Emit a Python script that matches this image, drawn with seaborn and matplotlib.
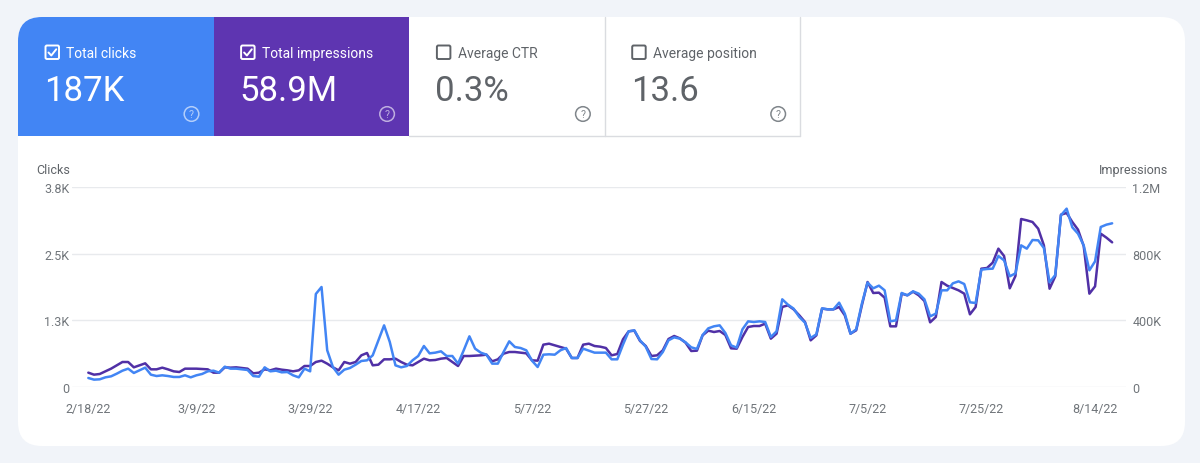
import numpy as np
import pandas as pd
import matplotlib
matplotlib.use("Agg")
import matplotlib.pyplot as plt
from matplotlib.patches import FancyBboxPatch, Rectangle, Circle
from matplotlib.lines import Line2D
import seaborn as sns

# ---------------- data ----------------
start_date = "2022-02-18"

clicks = [
    169, 138, 144, 181, 200, 250, 306, 344, 263, 313,
    363, 231, 206, 219, 206, 188, 188, 219, 181, 219,
    244, 294, 306, 269, 381, 344, 344, 331, 319, 206,
    194, 369, 294, 306, 275, 281, 219, 181, 344, 294,
    1744, 1875, 688, 375, 231, 325, 356, 419, 488, 500,
    594, 875, 1156, 844, 406, 369, 394, 500, 581, 769,
    631, 644, 669, 581, 581, 438, 688, 950, 719, 644,
    606, 438, 438, 656, 856, 750, 731, 688, 494, 375,
    606, 613, 606, 688, 731, 544, 544, 719, 681, 644,
    644, 644, 519, 519, 794, 1044, 1063, 875, 756, 525,
    519, 656, 875, 931, 906, 838, 744, 713, 975, 1100,
    1138, 1156, 1013, 781, 738, 1081, 1231, 1219, 1231, 1219,
    938, 1044, 1644, 1544, 1469, 1313, 1206, 919, 988, 1475,
    1456, 1456, 1581, 1375, 1000, 1081, 1563, 1956, 1850, 1900,
    1813, 1231, 1250, 1763, 1719, 1794, 1750, 1644, 1325, 1375,
    1813, 1813, 1944, 1981, 1931, 1588, 1575, 2200, 2213, 2219,
    2456, 2375, 2075, 2131, 2656, 2594, 2756, 2750, 2606, 1963,
    2100, 3219, 3344, 2994, 2875, 2656, 2188, 2356, 3000, 3044,
    3069,
]

impressions = [
    86000, 74000, 78000, 94000, 110000, 130000, 150000, 150000, 118000, 130000,
    142000, 106000, 106000, 116000, 106000, 94000, 90000, 110000, 110000, 110000,
    108000, 106000, 86000, 86000, 118000, 116000, 118000, 114000, 110000, 82000,
    86000, 106000, 100000, 110000, 104000, 100000, 94000, 100000, 126000, 126000,
    150000, 158000, 140000, 118000, 100000, 150000, 140000, 150000, 190000, 204000,
    130000, 134000, 166000, 166000, 170000, 150000, 134000, 130000, 150000, 170000,
    160000, 162000, 170000, 174000, 150000, 126000, 186000, 186000, 188000, 190000,
    194000, 154000, 166000, 200000, 210000, 210000, 206000, 202000, 160000, 158000,
    254000, 260000, 250000, 240000, 230000, 174000, 174000, 254000, 260000, 246000,
    242000, 234000, 190000, 198000, 286000, 334000, 338000, 276000, 246000, 186000,
    190000, 220000, 288000, 306000, 292000, 266000, 216000, 218000, 310000, 338000,
    330000, 336000, 312000, 232000, 230000, 300000, 360000, 366000, 366000, 380000,
    290000, 320000, 480000, 490000, 466000, 430000, 390000, 280000, 310000, 470000,
    466000, 466000, 480000, 430000, 320000, 340000, 490000, 630000, 564000, 566000,
    536000, 364000, 364000, 560000, 550000, 572000, 550000, 516000, 388000, 420000,
    630000, 608000, 594000, 580000, 560000, 436000, 480000, 710000, 714000, 746000,
    830000, 786000, 592000, 666000, 1008000, 1000000, 990000, 950000, 850000, 590000,
    664000, 1034000, 1044000, 990000, 944000, 846000, 560000, 604000, 920000, 896000,
    868000,
]

tick_dates = ["2022-02-18", "2022-03-09", "2022-03-29", "2022-04-17", "2022-05-07",
              "2022-05-27", "2022-06-15", "2022-07-05", "2022-07-25", "2022-08-14"]
tick_labels = ["2/18/22", "3/9/22", "3/29/22", "4/17/22", "5/7/22",
               "5/27/22", "6/15/22", "7/5/22", "7/25/22", "8/14/22"]

clicks_ticks = [0, 1250, 2500, 3750]
clicks_tick_labels = ["0", "1.3K", "2.5K", "3.8K"]
impr_ticks = [0, 400000, 800000, 1200000]
impr_tick_labels = ["0", "400K", "800K", "1.2M"]

tile_titles = ["Total clicks", "Total impressions", "Average CTR", "Average position"]
tile_values = ["187K", "58.9M", "0.3%", "13.6"]
tile_selected = [True, True, False, False]

# ---------------- style ----------------
sns.set_theme(style="white")
plt.rcParams['font.family'] = ['Roboto', 'DejaVu Sans']

BLUE = "#4285f4"
PURPLE = "#5e35b1"
PURPLE_LINE = "#5030a6"
GRAY_TXT = "#5f6368"
TICK_TXT = "#70757a"
BORDER = "#dadce0"
PAGE_BG = "#f1f4f9"

W, H = 1200, 464
fig = plt.figure(figsize=(12, 4.64), dpi=100)
fig.patch.set_facecolor(PAGE_BG)

# background / card layer in pixel coordinates
bg = fig.add_axes([0, 0, 1, 1])
bg.set_xlim(0, W)
bg.set_ylim(H, 0)
bg.axis("off")
bg.set_zorder(0)

card = FancyBboxPatch((18, 18), 1167, 429, boxstyle="round,pad=0,rounding_size=24",
                      facecolor="white", edgecolor="none")
bg.add_patch(card)

tile_x = [18, 213.6, 409.4, 604.7]
tile_w = 195.6
tile_top, tile_bot = 18, 136.7
tile_fill = [BLUE, PURPLE, None, None]

# blue tile with rounded top-left corner
bg.add_patch(FancyBboxPatch((tile_x[0], tile_top), tile_w, tile_bot - tile_top,
                            boxstyle="round,pad=0,rounding_size=24",
                            facecolor=BLUE, edgecolor="none"))
bg.add_patch(Rectangle((tile_x[0] + 40, tile_top), tile_w - 40, tile_bot - tile_top,
                       facecolor=BLUE, edgecolor="none"))
bg.add_patch(Rectangle((tile_x[0], tile_top + 40), tile_w, tile_bot - tile_top - 40,
                       facecolor=BLUE, edgecolor="none"))
# purple tile
bg.add_patch(Rectangle((tile_x[1], tile_top), tile_w, tile_bot - tile_top,
                       facecolor=PURPLE, edgecolor="none"))
# white tiles borders
bg.add_line(Line2D([tile_x[2], tile_x[3] + tile_w], [tile_bot, tile_bot], color=BORDER, lw=1))
bg.add_line(Line2D([tile_x[3], tile_x[3]], [tile_top, tile_bot], color=BORDER, lw=1))
bg.add_line(Line2D([tile_x[3] + tile_w, tile_x[3] + tile_w], [tile_top, tile_bot], color=BORDER, lw=1))

for i, (tx, title, val, sel) in enumerate(zip(tile_x, tile_titles, tile_values, tile_selected)):
    filled = tile_fill[i] is not None
    fg = "white" if filled else GRAY_TXT
    # checkbox
    bg.add_patch(FancyBboxPatch((tx + 27.5, 46.5), 13.5, 13.5,
                                boxstyle="round,pad=0,rounding_size=1.5",
                                facecolor="none", edgecolor=fg, lw=1.4))
    if sel:
        bg.add_line(Line2D([tx + 30.5, tx + 33.3, tx + 38.2], [53.5, 56.5, 50.3],
                           color=fg, lw=1.4, solid_capstyle="round"))
    bg.text(tx + 48.5, 54, title, color=fg, fontsize=10, va="center", ha="left")
    bg.text(tx + 26, 91.5, val, color=fg, fontsize=25, va="center", ha="left")
    # help icon
    icon_col = (1, 1, 1, 0.6) if filled else "#80868b"
    bg.add_patch(Circle((tx + 173.5, 115), 7.3, facecolor="none", edgecolor=icon_col, lw=1.1))
    bg.text(tx + 173.5, 115.5, "?", color=icon_col, fontsize=7.5, ha="center", va="center")

bg.text(36, 171, "Clicks", color=GRAY_TXT, fontsize=9, ha="left", va="center")
bg.text(1168, 171, "Impressions", color=GRAY_TXT, fontsize=9, ha="right", va="center")

# ---------------- chart ----------------
dates = pd.date_range(start_date, periods=len(clicks), freq="D")
df = pd.DataFrame({"date": dates, "clicks": clicks, "impressions": impressions})

x0, x1 = 72, 1125.5
ax = fig.add_axes([x0 / W, 1 - 388 / H, (x1 - x0) / W, 200 / H])
ax2 = ax.twinx()

sns.lineplot(data=df, x="date", y="impressions", ax=ax2, color=PURPLE_LINE, lw=1.8)
sns.lineplot(data=df, x="date", y="clicks", ax=ax, color=BLUE, lw=1.8)

ax.set_zorder(3)
ax2.set_zorder(2)
ax.patch.set_visible(False)
ax2.patch.set_visible(False)

ax.set_xlim(dates[0] - pd.Timedelta(days=2.87), dates[0] + pd.Timedelta(days=182.35))
ax.set_ylim(0, clicks_ticks[-1])
ax2.set_ylim(0, impr_ticks[-1])

ax.set_yticks(clicks_ticks)
ax.set_yticklabels(clicks_tick_labels)
ax2.set_yticks(impr_ticks)
ax2.set_yticklabels(impr_tick_labels)
ax.set_xticks(pd.to_datetime(tick_dates))
ax.set_xticklabels(tick_labels)

for a in (ax, ax2):
    a.set_xlabel("")
    a.set_ylabel("")
    for s in a.spines.values():
        s.set_visible(False)

ax.tick_params(axis="y", length=0, pad=2, labelsize=9, labelcolor=TICK_TXT)
ax2.tick_params(axis="y", length=0, pad=5, labelsize=9, labelcolor=TICK_TXT)
ax.tick_params(axis="x", length=0, pad=11, labelsize=9, labelcolor=TICK_TXT)

ax.grid(False)
ax2.grid(False)
ax2.yaxis.grid(True, color="#e8eaed", lw=1)
ax2.set_axisbelow(True)

fig.savefig("out.png", dpi=100, facecolor=fig.get_facecolor())
